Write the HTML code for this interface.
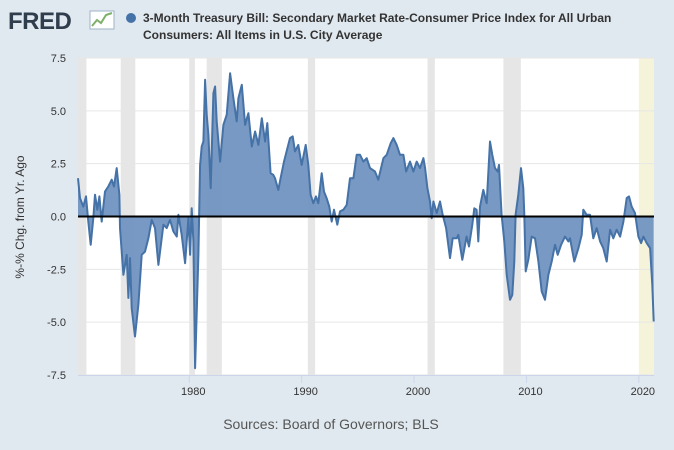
<!DOCTYPE html>
<html><head><meta charset="utf-8"><style>
html,body{margin:0;padding:0}
body{width:674px;height:450px;background:#e1e9f0;font-family:"Liberation Sans",sans-serif;position:relative;overflow:hidden}
</style></head><body>
<svg id="chart" width="674" height="450" xmlns="http://www.w3.org/2000/svg" style="position:absolute;left:0;top:0">
<g>
<text x="8" y="29" font-size="24" font-weight="bold" fill="#2f3d4d" font-family="Liberation Sans,sans-serif" letter-spacing="-0.5">FRED</text>
<rect x="90" y="11" width="24" height="18" fill="#fff" stroke="#9fb3c8" stroke-width="1"/>
<polyline points="92,26 97,20 101,23 106,15 112,13" fill="none" stroke="#7fb069" stroke-width="2"/>
</g>
<circle cx="131" cy="18" r="5" fill="#4572a7"/>
<text font-size="12" font-weight="bold" fill="#333">
<tspan x="143" y="22">3-Month Treasury Bill: Secondary Market Rate-Consumer Price Index for All Urban</tspan>
<tspan x="143" y="39">Consumers: All Items in U.S. City Average</tspan></text>
<rect x="78" y="58" width="576" height="317" fill="#fff"/>
<g id="rec"></g><g id="grid"></g><g id="series"></g><g id="axes"></g>
<text transform="translate(24,217) rotate(-90)" text-anchor="middle" font-size="12" fill="#333">%-% Chg. from Yr. Ago</text>
<text x="331" y="429" text-anchor="middle" font-size="14" fill="#555">Sources: Board of Governors; BLS</text>
</svg>
<script>
const years=[1970.10,1970.28,1970.57,1970.81,1971.02,1971.23,1971.46,1971.61,1971.82,1972.00,1972.21,1972.50,1972.80,1973.10,1973.30,1973.54,1973.78,1973.84,1974.14,1974.43,1974.58,1974.73,1974.88,1975.17,1975.47,1975.77,1976.06,1976.36,1976.66,1976.95,1977.25,1977.70,1977.99,1978.29,1978.59,1978.89,1979.03,1979.33,1979.63,1979.92,1980.07,1980.22,1980.37,1980.52,1980.81,1980.96,1981.11,1981.26,1981.41,1981.55,1981.70,1981.91,1982.15,1982.30,1982.44,1982.74,1983.04,1983.33,1983.63,1983.93,1984.22,1984.37,1984.67,1984.97,1985.26,1985.56,1985.86,1986.15,1986.45,1986.75,1986.94,1987.24,1987.48,1987.63,1987.92,1988.13,1988.43,1988.66,1988.96,1989.20,1989.41,1989.70,1990.00,1990.36,1990.59,1990.80,1991.04,1991.28,1991.48,1991.78,1991.99,1992.22,1992.46,1992.67,1992.88,1993.17,1993.41,1993.71,1994.01,1994.30,1994.60,1994.90,1995.19,1995.49,1995.79,1996.08,1996.53,1996.82,1997.27,1997.57,1997.92,1998.16,1998.46,1998.75,1999.05,1999.29,1999.64,1999.94,2000.24,2000.53,2000.83,2000.98,2001.19,2001.42,2001.57,2001.72,2002.02,2002.31,2002.55,2002.85,2003.20,2003.44,2003.80,2003.94,2004.29,2004.68,2004.89,2005.18,2005.36,2005.57,2005.72,2005.87,2006.16,2006.46,2006.76,2006.96,2007.20,2007.44,2007.56,2007.79,2008.03,2008.24,2008.54,2008.74,2008.92,2009.04,2009.28,2009.52,2009.72,2009.81,2009.93,2010.17,2010.47,2010.76,2011.06,2011.36,2011.65,2011.95,2012.25,2012.54,2012.78,2013.08,2013.43,2013.73,2013.88,2014.26,2014.62,2014.92,2015.06,2015.36,2015.66,2015.95,2016.25,2016.55,2016.84,2017.14,2017.44,2017.73,2018.03,2018.33,2018.63,2018.92,2019.13,2019.37,2019.66,2019.96,2020.20,2020.41,2020.70,2021.00,2021.20,2021.32];
const values=[1.81,0.87,0.47,0.95,-0.24,-1.34,-0.08,1.03,0.32,0.95,-0.24,1.18,1.42,1.74,1.42,2.29,1.03,-0.55,-2.76,-1.81,-3.85,-1.97,-4.34,-5.68,-4.16,-1.81,-1.66,-1.03,-0.16,-0.55,-2.29,-0.39,-0.55,-0.16,-0.71,-0.95,0.08,-0.87,-2.21,-0.08,-1.81,0.39,-1.18,-7.18,-1.81,2.44,3.31,3.55,6.47,4.81,3.86,1.34,5.84,6.15,4.50,2.60,4.34,4.81,6.78,5.60,4.50,5.60,6.23,4.34,4.89,3.31,4.02,3.39,4.65,3.55,4.42,2.05,1.97,1.81,1.26,1.81,2.60,3.08,3.71,3.79,3.08,3.39,2.44,3.39,2.44,1.03,0.63,0.95,0.63,2.05,1.18,0.87,0.47,-0.24,0.32,-0.39,0.24,0.32,0.55,1.81,1.81,2.92,2.92,2.60,2.76,2.29,2.13,1.74,2.76,2.92,3.47,3.71,3.39,2.92,2.92,2.13,2.60,2.13,2.60,2.29,2.76,2.29,1.34,0.71,-0.08,0.71,0.16,0.71,0.08,-0.55,-1.97,-1.03,-1.03,-0.87,-2.05,-0.95,-1.42,-0.39,0.39,0.32,-1.18,0.47,1.26,0.63,3.55,2.92,2.29,2.13,2.44,0.08,-1.18,-2.76,-3.94,-3.71,-2.13,0.08,1.03,2.29,1.34,0.08,-2.60,-2.05,-0.95,-1.03,-2.13,-3.55,-3.94,-2.76,-2.13,-1.34,-1.81,-1.34,-0.95,-1.18,-1.03,-2.13,-1.50,-0.87,0.32,0.08,0.08,-1.03,-0.55,-1.18,-1.50,-2.13,-0.63,-1.03,-0.63,-0.95,-0.24,0.87,0.95,0.47,0.16,-0.95,-1.26,-0.95,-1.26,-1.50,-3.23,-4.97];
const recStart=[1969.95,1973.9,1980.0,1981.55,1990.55,2001.2,2007.95];
const recEnd=[1970.85,1975.2,1980.5,1982.9,1991.2,2001.85,2009.5];
const yTicks=[7.5,5.0,2.5,0.0,-2.5,-5.0,-7.5];
const xTicks=[1980,1990,2000,2010,2020];
const X0=78,X1=654,Y0=58,Y1=375,T0=1970.1,T1=2021.35;
const xs=t=>X0+(t-T0)/(T1-T0)*(X1-X0);
const ys=v=>Y0+(7.5-v)/15*(Y1-Y0);
const NS="http://www.w3.org/2000/svg";
function mk(tag,attrs,parent){const e=document.createElementNS(NS,tag);for(const k in attrs)e.setAttribute(k,attrs[k]);document.getElementById(parent).appendChild(e);return e;}
recStart.forEach((s,i)=>{const a=Math.max(xs(s),X0),b=xs(recEnd[i]);
const r=mk('rect',{x:a,y:Y0,width:b-a,height:Y1-Y0,fill:'#e6e6e6'},'rec');

});
const yb=mk('rect',{x:xs(2020.0),y:Y0,width:X1-xs(2020.0),height:Y1-Y0,fill:'#f5f3d9'},'rec');


yTicks.forEach(v=>{const y=ys(v);
if(v!==0){const g=mk('line',{x1:X0,x2:X1,y1:y,y2:y,stroke:'#e6e6e6','stroke-width':1},'grid');

}
const t=mk('text',{x:66,y:y+4,'text-anchor':'end','font-size':11,fill:'#333'},'axes');
t.textContent=v.toFixed(1);

});
let d='M'+xs(years[0])+','+ys(0);
years.forEach((t,i)=>{d+=' L'+xs(t).toFixed(1)+','+ys(values[i]).toFixed(1);});
d+=' L'+xs(years[years.length-1])+','+ys(0)+'Z';
const area=mk('path',{d:d,fill:'#7194c0','fill-opacity':0.95},'series');


const line=mk('polyline',{points:years.map((t,i)=>xs(t).toFixed(1)+','+ys(values[i]).toFixed(1)).join(' '),fill:'none',stroke:'#4572a7','stroke-width':2,'stroke-linejoin':'round'},'series');


const z=mk('line',{x1:X0,x2:X1,y1:ys(0),y2:ys(0),stroke:'#000','stroke-width':2},'series');


const ax=mk('line',{x1:X0,x2:X1,y1:Y1+0.5,y2:Y1+0.5,stroke:'#ccd6eb','stroke-width':1},'axes');


xTicks.forEach(yr=>{const x=xs(yr);
const tk=mk('line',{x1:x,x2:x,y1:Y1,y2:Y1+8,stroke:'#ccd6eb','stroke-width':1},'axes');


const t=mk('text',{x:x+4,y:Y1+20,'text-anchor':'middle','font-size':11,fill:'#333'},'axes');
t.textContent=yr;

});
</script>
</body></html>
